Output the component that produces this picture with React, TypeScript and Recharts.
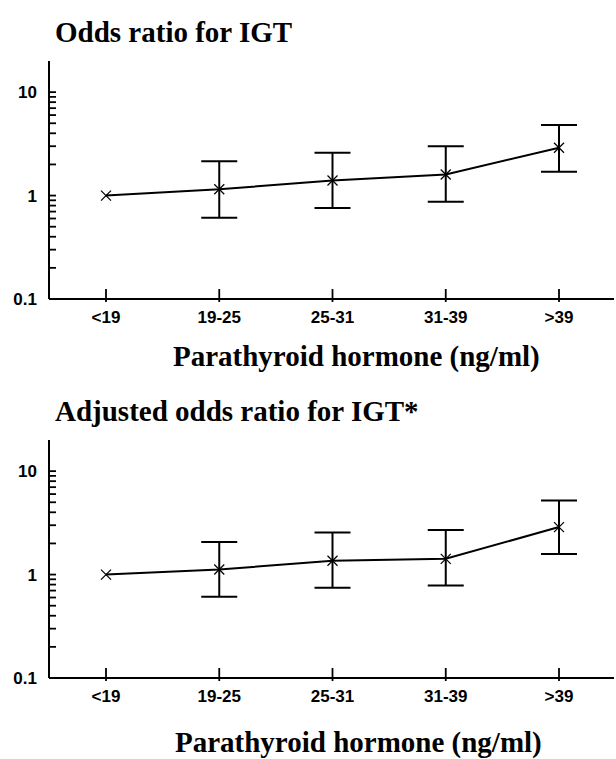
import React from "react";
import { LineChart, Line, XAxis, YAxis, ErrorBar } from "recharts";

const GROUPS = ["<19", "19-25", "25-31", "31-39", ">39"];

// crude odds ratio with 95% CI
const CRUDE_OR = [1, 1.15, 1.4, 1.6, 2.9];
const CRUDE_LOW = [null, 0.61, 0.76, 0.87, 1.7];
const CRUDE_HIGH = [null, 2.15, 2.6, 3.0, 4.8];

// adjusted odds ratio with 95% CI
const ADJ_OR = [1, 1.12, 1.36, 1.42, 2.88];
const ADJ_LOW = [null, 0.61, 0.745, 0.785, 1.58];
const ADJ_HIGH = [null, 2.06, 2.55, 2.7, 5.2];

const Y_DOMAIN = [0.1, 20];
const Y_MAJOR = [0.1, 1, 10];
const Y_MINOR = [0.2, 0.3, 0.4, 0.5, 0.6, 0.7, 0.8, 0.9, 2, 3, 4, 5, 6, 7, 8, 9];

const SANS = "'Liberation Sans', Arial, sans-serif";
const SERIF = "'Liberation Serif', 'Times New Roman', serif";

const buildRows = (or: number[], lo: (number | null)[], hi: (number | null)[]) =>
  GROUPS.map((g, i) => ({
    group: g,
    or: or[i],
    err: lo[i] == null || hi[i] == null ? null : [or[i] - (lo[i] as number), (hi[i] as number) - or[i]],
  }));

const Y_MARGIN = 12;
const X_MARGIN = 12;
const TICK_FONT = 17;
const frameLine = { stroke: "#000", strokeWidth: 2 };

// tick mark drawn inward from the axis + label for the decades
const YTick = ({ x, y, payload }: any) => {
  const major = Y_MAJOR.includes(payload.value);
  const ax = x + Y_MARGIN;
  return (
    <g>
      <line x1={ax} x2={ax + 7} y1={y} y2={y} stroke="#000" strokeWidth={1.8} />
      {major && (
        <text x={x} y={y} dy="0.36em" textAnchor="end" fontFamily={SANS} fontWeight={700}
          fontSize={TICK_FONT} fill="#000">
          {String(payload.value)}
        </text>
      )}
    </g>
  );
};

const XTick = ({ x, y, payload }: any) => {
  const ay = y - X_MARGIN;
  return (
    <g>
      <line x1={x} x2={x} y1={ay + 3} y2={ay - 10} stroke="#000" strokeWidth={1.8} />
      <text x={x} y={y} dy="0.72em" textAnchor="middle" fontFamily={SANS} fontWeight={700}
        fontSize={TICK_FONT} fill="#000">
        {payload.value}
      </text>
    </g>
  );
};

const Cross = ({ cx, cy }: any) => {
  if (cx == null || cy == null) return null;
  const s = 5;
  return (
    <g>
      <line x1={cx - s} y1={cy - s} x2={cx + s} y2={cy + s} stroke="#000" strokeWidth={1.2} />
      <line x1={cx - s} y1={cy + s} x2={cx + s} y2={cy - s} stroke="#000" strokeWidth={1.2} />
    </g>
  );
};

function Panel({ rows, top }: { rows: any[]; top: number }) {
  return (
    <div style={{ position: "absolute", left: 0, top }}>
      <LineChart width={616} height={340} data={rows}
        margin={{ top: 61, right: 2, bottom: 11, left: 0 }}>
        <XAxis dataKey="group" type="category" height={30} padding={{ left: 57, right: 55 }}
          axisLine={frameLine} tickLine={false} tickSize={0} tickMargin={X_MARGIN}
          tick={<XTick />} interval={0} />
        <XAxis xAxisId="top" orientation="top" dataKey="group" height={0}
          axisLine={frameLine} tick={false} tickLine={false} />
        <YAxis scale="log" domain={Y_DOMAIN} allowDataOverflow width={49}
          ticks={[...Y_MAJOR, ...Y_MINOR]} interval={0}
          axisLine={frameLine} tickLine={false} tickSize={0} tickMargin={Y_MARGIN}
          tick={<YTick />} />
        <YAxis yAxisId="right" orientation="right" width={0} domain={[0, 1]}
          axisLine={frameLine} tick={false} tickLine={false} />
        <Line dataKey="or" type="linear" stroke="#000" strokeWidth={2}
          dot={<Cross />} activeDot={false} isAnimationActive={false}>
          <ErrorBar dataKey="err" direction="y" width={18} stroke="#000" strokeWidth={2} />
        </Line>
      </LineChart>
    </div>
  );
}

const titleStyle: React.CSSProperties = {
  position: "absolute",
  fontFamily: SERIF,
  fontWeight: 700,
  fontSize: 29,
  lineHeight: "29px",
  color: "#000",
  whiteSpace: "nowrap",
};

export default function App() {
  const crude = buildRows(CRUDE_OR, CRUDE_LOW, CRUDE_HIGH);
  const adjusted = buildRows(ADJ_OR, ADJ_LOW, ADJ_HIGH);
  return (
    <div style={{ position: "absolute", left: 0, top: 0, width: 616, height: 759, background: "#fff" }}>
      <div style={{ ...titleStyle, left: 55, top: 18 }}>Odds ratio for IGT</div>
      <Panel rows={crude} top={0} />
      <div style={{ ...titleStyle, left: 173, top: 342 }}>Parathyroid hormone (ng/ml)</div>

      <div style={{ ...titleStyle, left: 55, top: 397 }}>Adjusted odds ratio for IGT*</div>
      <Panel rows={adjusted} top={379} />
      <div style={{ ...titleStyle, left: 175, top: 728 }}>Parathyroid hormone (ng/ml)</div>
    </div>
  );
}
